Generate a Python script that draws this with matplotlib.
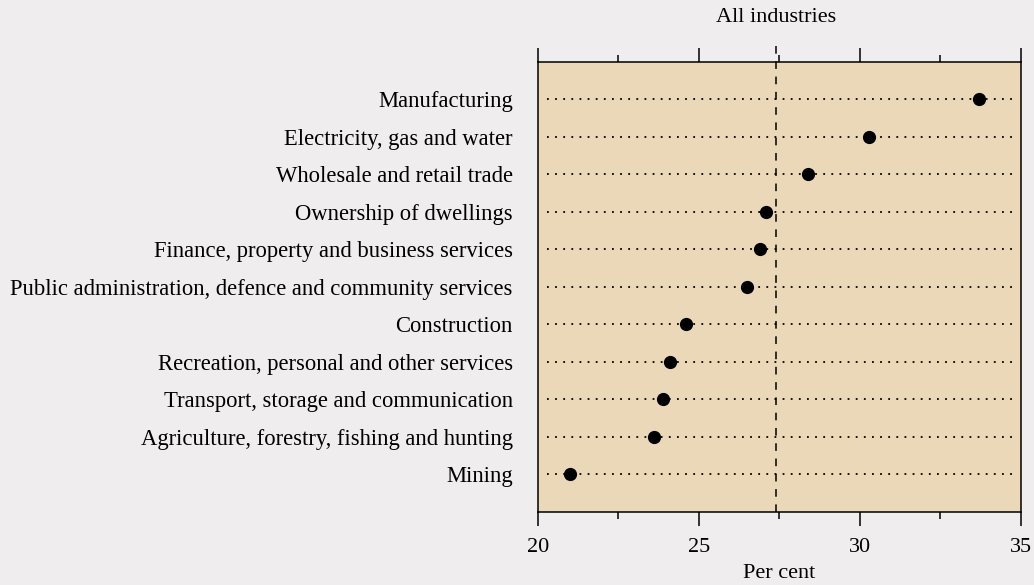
import numpy as np
import matplotlib.pyplot as plt
from matplotlib.ticker import MultipleLocator

industries = ['Manufacturing', 'Electricity, gas and water', 'Wholesale and retail trade',
              'Ownership of dwellings', 'Finance, property and business services',
              'Public administration, defence and community services', 'Construction',
              'Recreation, personal and other services', 'Transport, storage and communication',
              'Agriculture, forestry, fishing and hunting', 'Mining']
values = [33.7, 30.3, 28.4, 27.1, 26.9, 26.5, 24.6, 24.1, 23.9, 23.6, 21.0]
all_industries = 27.4

plt.rcParams['font.family'] = ['Liberation Serif', 'DejaVu Serif']

fig = plt.figure(figsize=(10.34, 5.85), dpi=100, facecolor='#efeded')
ax = fig.add_axes([0.520, 0.125, 0.467, 0.769])
ax.set_facecolor('#ead8b8')

y = np.arange(len(industries))
for yi in y:
    ax.plot([20.3, 34.8], [yi, yi], color='black', lw=1.3, linestyle=(0, (1, 3.5)), zorder=2)
ax.plot(values, y, 'o', color='black', ms=8.5, zorder=4)

ax.plot([all_industries, all_industries], [11, -1.45], color='black', lw=1.1,
        linestyle=(0, (5, 5)), clip_on=False, zorder=3)
ax.text(all_industries, -2.2, 'All industries', ha='center', va='center', fontsize=16)

ax.set_xlim(20, 35)
ax.set_ylim(11, -1)
ax.set_yticks(y)
ax.set_yticklabels(industries, fontsize=16.3)
ax.tick_params(axis='y', length=0, pad=18)
ax.xaxis.set_major_locator(MultipleLocator(5))
ax.xaxis.set_minor_locator(MultipleLocator(2.5))
ax.tick_params(axis='x', which='major', direction='out', length=10, width=1.1,
               top=True, labeltop=False, labelsize=16, pad=9)
ax.tick_params(axis='x', which='minor', direction='out', length=5, width=1.1, top=True)
ax.set_xlabel('Per cent', fontsize=16, labelpad=5)
for s in ax.spines.values():
    s.set_linewidth(1.1)

fig.savefig('out.png', dpi=100, facecolor=fig.get_facecolor())
